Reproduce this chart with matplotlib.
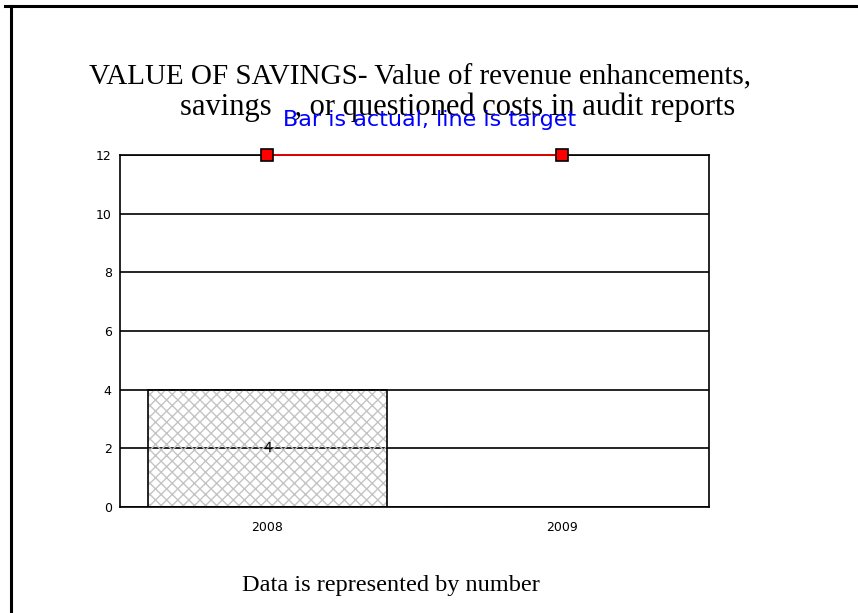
import matplotlib.pyplot as plt
from matplotlib.lines import Line2D

# data
years = ["2008", "2009"]
actual = [4, 0]
target = [12, 12]
y_ticks = [0, 2, 4, 6, 8, 10, 12]

fig = plt.figure(figsize=(8.58, 6.13), dpi=100)
ax = fig.add_axes([120 / 858, 1 - 507 / 613, 589 / 858, 352 / 613])

x = range(len(years))

# bars (hatch drawn in light gray, outline in black)
ax.bar(x, actual, width=0.81, facecolor="none", edgecolor="#c4c4c4",
       hatch="xxx", linewidth=0, zorder=2)
bars = ax.bar(x, actual, width=0.81, facecolor="none", edgecolor="black",
              linewidth=1.2, zorder=3)
ax.bar_label(bars, labels=[str(v) if v else "" for v in actual],
             label_type="center", fontsize=10, family="DejaVu Sans")

# target line
ax.plot(x, target, color="red", linewidth=1.2, marker="s", markersize=8,
        markerfacecolor="red", markeredgecolor="black", markeredgewidth=1.2,
        clip_on=False, zorder=5)

ax.set_xlim(-0.5, 1.5)
ax.set_ylim(0, 12)
ax.set_yticks(y_ticks)
ax.set_xticks(list(x))
ax.set_xticklabels(years)
ax.tick_params(axis="y", length=0, labelsize=9, pad=6)
ax.tick_params(axis="x", length=0, labelsize=9, pad=10)
ax.yaxis.grid(True, color="black", linewidth=1.2)
ax.set_axisbelow(True)
for s in ax.spines.values():
    s.set_linewidth(1.2)

# titles
fig.text(420 / 858, 1 - 77 / 613, "VALUE OF SAVINGS- Value of revenue enhancements,",
         ha="center", va="center", fontsize=21, family="Liberation Serif")
fig.text(458 / 858, 1 - 107 / 613, "savings   , or questioned costs in audit reports",
         ha="center", va="center", fontsize=22, family="Liberation Serif")
fig.text(430 / 858, 1 - 120 / 613, "Bar is actual, line is target",
         ha="center", va="center", fontsize=16, color="blue", family="DejaVu Sans")
fig.text(391 / 858, 1 - 586 / 613, "Data is represented by number",
         ha="center", va="center", fontsize=17.5, family="Liberation Serif")

# slide frame
fig.add_artist(Line2D([5 / 858, 1], [1 - 6 / 613, 1 - 6 / 613], color="black",
                      linewidth=2.2, transform=fig.transFigure))
fig.add_artist(Line2D([11 / 858, 11 / 858], [0, 1 - 6 / 613], color="black",
                      linewidth=2.2, transform=fig.transFigure))

fig.savefig("out.png", dpi=100)
